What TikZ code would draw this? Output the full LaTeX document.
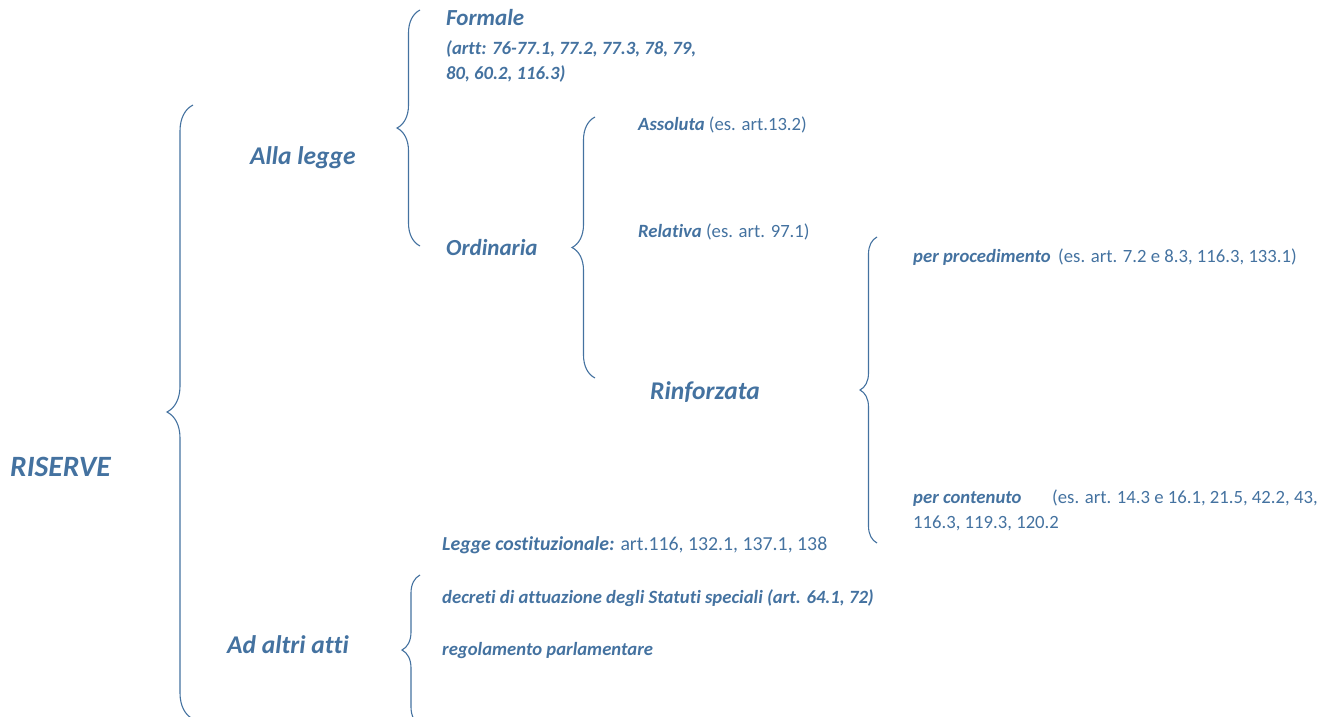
\documentclass[tikz,border=0pt]{standalone}
\usepackage{fontspec}
\setmainfont{Carlito}[Ligatures={NoCommon}]
\usetikzlibrary{decorations.pathreplacing}

\definecolor{riserveblu}{RGB}{68,114,160}

\tikzset{
    brc/.style={draw=riserveblu, line width=1.1pt, decorate,
        decoration={brace, amplitude=#1}},
    lbl/.style={text=riserveblu, anchor=base west, inner sep=0pt},
    big/.style={lbl, font=\fontsize{25.5}{30}\selectfont\bfseries\itshape},
    mid/.style={lbl, font=\fontsize{23}{27}\selectfont\bfseries\itshape},
    small/.style={lbl, font=\fontsize{18.7}{24}\selectfont},
    smallbi/.style={lbl, font=\fontsize{18.7}{24}\selectfont\bfseries\itshape},
}

\begin{document}
\begin{tikzpicture}[x=1pt, y=-1pt]
    \clip (0,0) rectangle (1322,717);

    % braces, drawn bottom to top
    \draw[brc=26pt] (193,719) -- (193,105);
    \draw[brc=23pt] (420,246) -- (420,10);
    \draw[brc=23pt] (595,378) -- (595,117);
    \draw[brc=17pt] (877,543) -- (877,237);
    \draw[brc=18pt] (420,725) -- (420,575);

    \node[big, font=\fontsize{29.5}{34}\selectfont\bfseries\itshape] (riserve) at (10,476) {RISERVE};
    \node[big] (allalegge) at (250,164) {Alla legge};
    \node[big] (altriatti) at (227,653) {Ad altri atti};

    \node[mid] (formale) at (446,26) {Formale};
    \node[smallbi] (artt) at (446,55) {(artt: 76-77.1, 77.2, 77.3, 78, 79,};
    \node[smallbi] (artt2) at (446,79) {80, 60.2, 116.3)};
    \node[mid] (ordinaria) at (446,255) {Ordinaria};

    \node[small] (assoluta) at (638,130) {\textbf{\textit{Assoluta}} (es. art.13.2)};
    \node[small] (relativa) at (638,237) {\textbf{\textit{Relativa}} (es. art. 97.1)};
    \node[big] (rinforzata) at (650,399) {Rinforzata};

    \node[small] (procedimento) at (913,262)
        {\makebox[145pt][l]{\textbf{\textit{per procedimento}}}(es. art. 7.2 e 8.3, 116.3, 133.1)};
    \node[small] (contenuto) at (913,503)
        {\makebox[139pt][l]{\textbf{\textit{per contenuto}}}(es. art. 14.3 e 16.1, 21.5, 42.2, 43,};
    \node[small] (contenuto2) at (913,528) {116.3, 119.3, 120.2};

    \node[small, font=\fontsize{19.8}{24}\selectfont] (costituzionale) at (442,550)
        {\textbf{\textit{Legge costituzionale:}} art.116, 132.1, 137.1, 138};
    \node[smallbi] (decreti) at (442,603)
        {decreti di attuazione degli Statuti speciali (art. 64.1, 72)};
    \node[smallbi] (regolamento) at (442,655) {regolamento parlamentare};
\end{tikzpicture}
\end{document}
